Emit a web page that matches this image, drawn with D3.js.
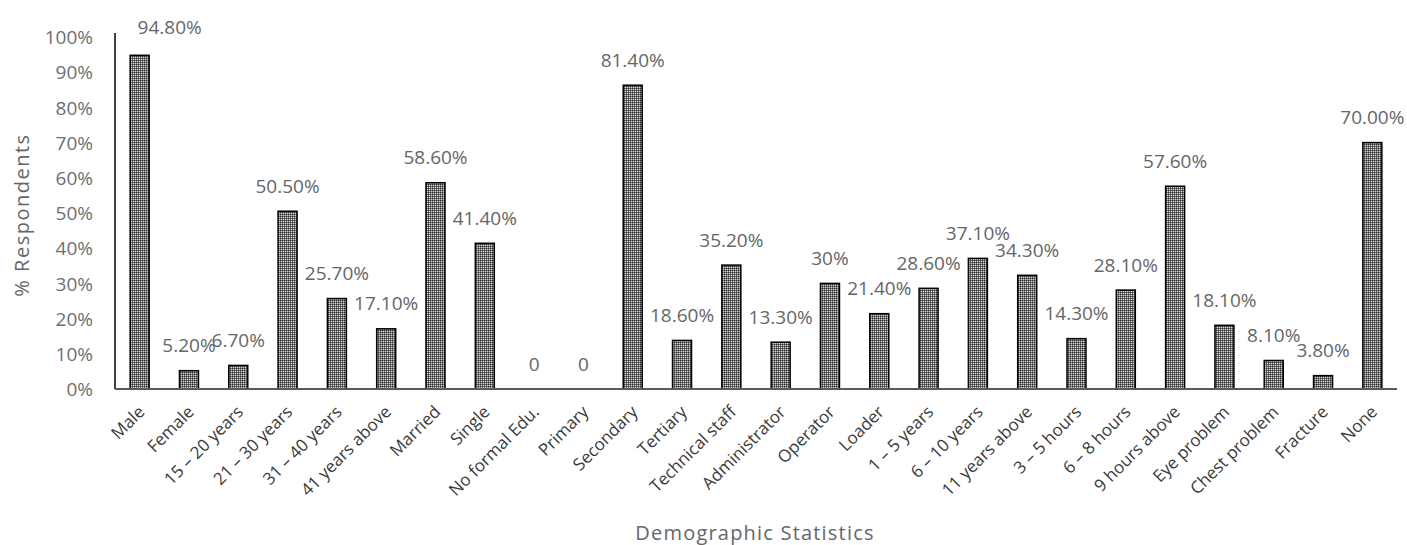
<!DOCTYPE html>
<html>
<head>
<meta charset="utf-8">
<script src="https://cdn.jsdelivr.net/npm/d3@7"></script>
<style>
  body { margin: 0; background: #fff; }
  svg { display: block; }
  .tick-y text { fill: #6f6f6f; font-family: "Open Sans", sans-serif; font-size: 19px; }
  .tick-x text { fill: #3a3a3a; font-family: "Open Sans", sans-serif; font-size: 17px; }
  .bar-label { fill: #666; font-family: "Open Sans", sans-serif; font-size: 19px; }
  .axis-title { fill: #666; font-family: "Open Sans", sans-serif; font-size: 20px; }
</style>
</head>
<body>
<div id="chart"></div>
<script>
// categories along the x axis
const categories = [
  "Male", "Female", "15 – 20 years", "21 – 30 years", "31 – 40 years", "41 years above",
  "Married", "Single", "No formal Edu.", "Primary", "Secondary", "Tertiary",
  "Technical staff", "Administrator", "Operator", "Loader", "1 – 5 years", "6 – 10 years",
  "11 years above", "3 – 5 hours", "6 – 8 hours", "9 hours above", "Eye problem",
  "Chest problem", "Fracture", "None"
];

// bar heights (%) as drawn
const values = [
  94.8, 5.2, 6.7, 50.5, 25.7, 17.1,
  58.6, 41.4, 0, 0, 86.3, 13.8,
  35.2, 13.3, 30, 21.4, 28.6, 37.1,
  32.3, 14.3, 28.1, 57.6, 18.1,
  8.1, 3.8, 70
];

// data label text as printed on the chart
const labels = [
  "94.80%", "5.20%", "6.70%", "50.50%", "25.70%", "17.10%",
  "58.60%", "41.40%", "0", "0", "81.40%", "18.60%",
  "35.20%", "13.30%", "30%", "21.40%", "28.60%", "37.10%",
  "34.30%", "14.30%", "28.10%", "57.60%", "18.10%",
  "8.10%", "3.80%", "70.00%"
];

const yTicks = [0, 10, 20, 30, 40, 50, 60, 70, 80, 90, 100];

const width = 1407, height = 545;
const margin = { left: 115, right: 10, top: 37, bottom: 156 };

const svg = d3.select('#chart').append('svg')
  .attr('width', width)
  .attr('height', height);

// dotted fill used by the bars
const defs = svg.append('defs');
const pat = defs.append('pattern')
  .attr('id', 'dots')
  .attr('width', 2).attr('height', 2)
  .attr('patternUnits', 'userSpaceOnUse');
pat.append('rect').attr('width', 2).attr('height', 2).attr('fill', '#727272');
pat.append('rect').attr('x', 0).attr('y', 0).attr('width', 1).attr('height', 1).attr('fill', '#303030');
pat.append('rect').attr('x', 1).attr('y', 1).attr('width', 1).attr('height', 1).attr('fill', '#d4d4d4');

const x = d3.scaleBand()
  .domain(categories)
  .range([margin.left, 1397])
  .paddingInner(0.615)
  .paddingOuter(0.3075);

const y = d3.scaleLinear()
  .domain([0, 100])
  .range([height - margin.bottom, margin.top]);

// y axis labels, no ticks
const yAxis = svg.append('g')
  .attr('class', 'tick-y')
  .attr('transform', 'translate(' + margin.left + ',0)')
  .call(d3.axisLeft(y).tickValues(yTicks).tickFormat(d => d + '%').tickSize(0).tickPadding(22));
yAxis.select('.domain').remove();
yAxis.selectAll('text').attr('dy', '0.35em');

// vertical axis line
svg.append('line')
  .attr('x1', margin.left).attr('x2', margin.left)
  .attr('y1', y(100) - 4).attr('y2', y(0))
  .attr('stroke', '#000').attr('stroke-width', 1.5);

// bars
svg.append('g')
  .selectAll('rect')
  .data(values)
  .enter().append('rect')
  .attr('x', (d, i) => x(categories[i]))
  .attr('y', d => y(d))
  .attr('width', x.bandwidth())
  .attr('height', d => y(0) - y(d))
  .attr('fill', 'url(#dots)')
  .attr('stroke', '#000')
  .attr('stroke-width', 1.5);

// baseline
svg.append('line')
  .attr('x1', margin.left).attr('x2', 1397)
  .attr('y1', y(0)).attr('y2', y(0))
  .attr('stroke', '#595959').attr('stroke-width', 2);

// x labels, rotated
const xAxis = svg.append('g')
  .attr('class', 'tick-x')
  .attr('transform', 'translate(0,' + y(0) + ')')
  .call(d3.axisBottom(x).tickSize(0).tickPadding(0));
xAxis.select('.domain').remove();
xAxis.selectAll('text')
  .attr('text-anchor', 'end')
  .attr('dy', null)
  .attr('y', 0)
  .attr('transform', 'translate(6,24) rotate(-45)');

// data labels; the Male label sits off to the right of its bar
svg.append('g')
  .selectAll('text')
  .data(labels)
  .enter().append('text')
  .attr('class', 'bar-label')
  .attr('text-anchor', 'middle')
  .attr('x', (d, i) => x(categories[i]) + x.bandwidth() / 2 + (i === 0 ? 30 : 0))
  .attr('y', (d, i) => y(values[i]) - (i === 0 ? 28 : 25))
  .attr('dy', '0.35em')
  .text(d => d);

// axis titles
svg.append('text')
  .attr('class', 'axis-title')
  .attr('text-anchor', 'middle')
  .attr('letter-spacing', '1.2px')
  .attr('x', 755).attr('y', 533)
  .attr('dy', '0.35em')
  .text('Demographic Statistics');

svg.append('text')
  .attr('class', 'axis-title')
  .attr('text-anchor', 'middle')
  .attr('letter-spacing', '1.5px')
  .attr('transform', 'translate(22,215) rotate(-90)')
  .attr('dy', '0.35em')
  .text('% Respondents');
</script>
</body>
</html>
